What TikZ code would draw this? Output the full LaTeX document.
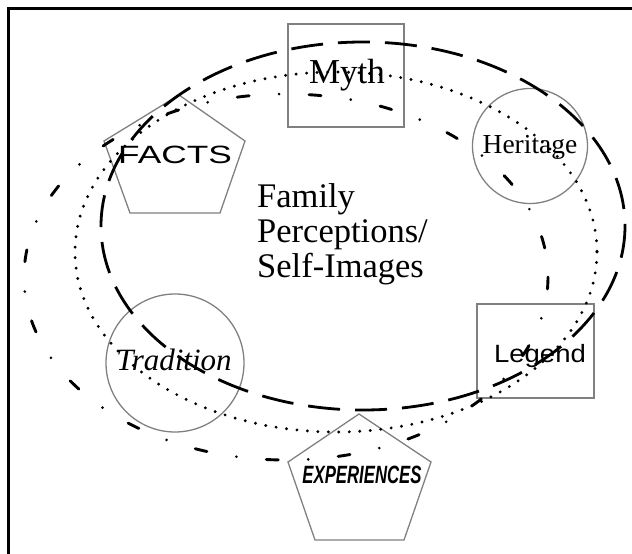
\documentclass[tikz,border=0pt]{standalone}
\usepackage{fontspec}
\setmainfont{Liberation Serif}
\newfontfamily\sansf{Liberation Sans}
\begin{document}
\begin{tikzpicture}[x=1pt,y=-1pt,
  shapeline/.style={draw=black!50, line width=1.3pt},
  dashring/.style={line width=2.8pt, dash pattern=on 32pt off 15pt},
  dotring/.style={line width=3.2pt, line cap=round, dash pattern=on 0pt off 10.5pt},
  dashdotring/.style={line width=2.9pt, line cap=round, dash pattern=on 12pt off 30pt on 0pt off 30pt},
  lbl/.style={inner sep=0pt, anchor=base}]
\useasboundingbox (0,0) rectangle (632,554);
% frame
\draw[line width=3pt] (8,570) -- (8,8) -- (645,8);
% shapes
\draw[shapeline] (288,24) rectangle (404,127);
\draw[shapeline] (477,304) rectangle (594,398);
\draw[shapeline] (530,146) circle [radius=57.5];
\draw[shapeline] (175,363) circle [radius=69];
\draw[shapeline] (179,95) -- (245,141) -- (220,213) -- (130,213) -- (104,141) -- cycle;
\draw[shapeline] (359,414) -- (431,462) -- (404,540) -- (315,540) -- (288,462) -- cycle;
% rings
\draw[dashring] (363,226) ellipse [x radius=262, y radius=184];
\draw[dotring] (336,252) ellipse [x radius=261, y radius=180];
\draw[dashdotring] (286,277) ellipse [x radius=262, y radius=183];
% labels
\node[lbl, font=\fontsize{35}{35}\selectfont] (myth) at (347,83) {Myth};
\node[lbl, font=\fontsize{27.5}{27.5}\selectfont] (heritage) at (530,153) {Heritage};
\node[lbl, font=\fontsize{31}{31}\selectfont\itshape] (tradition) at (174,370) {Tradition};
\node[lbl, font=\fontsize{25}{25}\selectfont\sansf] (legend) at (540,362) {\scalebox{1.1}[1]{Legend}};
\node[lbl, font=\fontsize{25}{25}\selectfont\sansf] (facts) at (175,163) {\scalebox{1.41}[1]{FACTS}};
\node[lbl, font=\fontsize{25}{25}\selectfont\sansf\bfseries\itshape] (exp) at (362,483) {\scalebox{0.67}[1]{EXPERIENCES}};
\node[inner sep=0pt, anchor=base west, font=\fontsize{34.5}{35}\selectfont] (fam1) at (257,207) {Family};
\node[inner sep=0pt, anchor=base west, font=\fontsize{34.5}{35}\selectfont] (fam2) at (257,242) {Perceptions/};
\node[inner sep=0pt, anchor=base west, font=\fontsize{34.5}{35}\selectfont] (fam3) at (257,277) {Self-Images};
\end{tikzpicture}
\end{document}
